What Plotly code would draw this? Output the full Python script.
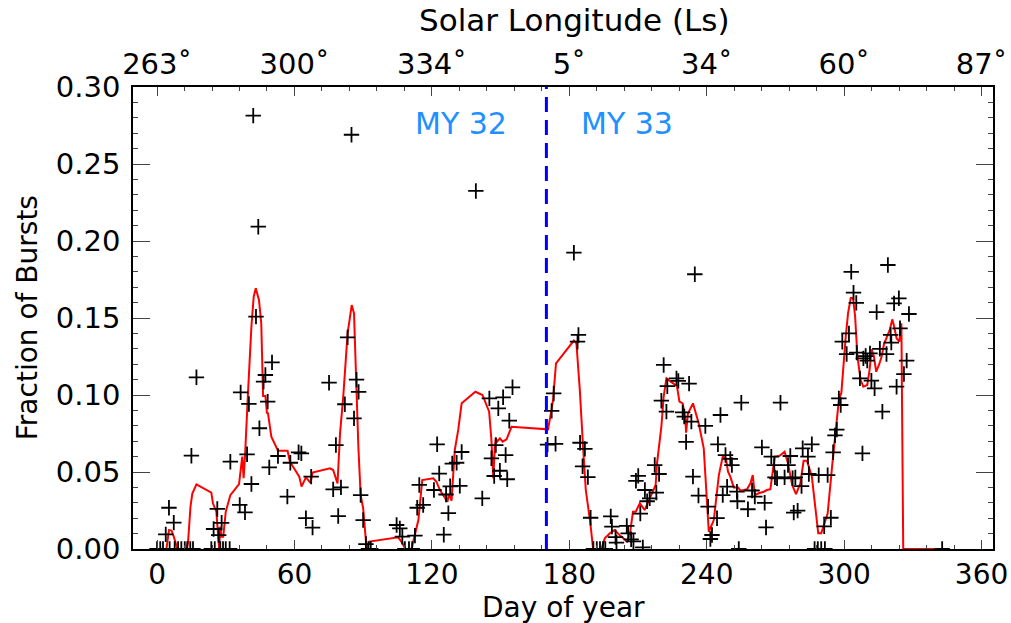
import plotly.graph_objects as go

# ---------------- data ----------------
burst_day = [0, 1.4, 2.6, 3.8, 5.2, 5.5, 7.3, 7.7, 9.2, 10.6, 12.1, 13.2, 14.5, 15.0, 15.7, 17.2,
             23.7, 24.7, 25.2, 26.3, 26.9, 27.6, 28.2, 28.8, 30.0, 31.7, 32.0, 36.1, 36.5, 38.4,
             39.3, 40.1, 41.2, 42.0, 43.2, 44.2, 44.7, 46.5, 47.3, 48.3, 49.0, 50.2, 52.8, 56.9,
             58.2, 61.8, 63.0, 65.0, 67.3, 67.9, 75.1, 76.9, 78.1, 79.1, 80.3, 82.0, 83.2, 84.9,
             86.0, 87.1, 88.0, 88.9, 90.0, 91.2, 92.3, 93.3,
             104.6, 106.0, 107.1, 108.2, 110.0, 111.4, 112.6, 113.6, 114.5, 116.2, 120.9, 122.3,
             123.2, 125.2, 126.2, 127.2, 128.0, 128.9, 130.8, 132.2, 133.0, 139.2, 142.0, 145.1,
             146.0, 147.2, 147.9, 149.0, 149.7, 151.1, 152.2, 152.9, 153.8, 155.2,
             170.5, 172.3, 173.2, 174.0, 182.0, 183.6, 184.0, 184.7, 185.8, 186.8, 188.1, 189.3,
             190.5, 192.0, 193.4, 194.7, 195.7, 198.1, 198.6, 200.2, 200.6, 205.1, 205.7, 207.0,
             208.0, 209.1, 210.1, 211.0, 212.1, 213.0, 214.0, 215.1, 217.3, 218.0, 219.2, 220.2,
             221.2, 222.4, 222.8, 226.8, 227.6, 229.5, 230.2, 231.0, 232.3, 233.3, 234.0, 234.8,
             236.4, 239.4, 240.6, 241.6, 242.3, 244.5, 244.9, 246.0, 247.0, 248.2, 248.9, 250.3,
             251.0, 253.2, 253.4, 254.0, 255.1, 258.0, 259.8, 261.0, 264.1, 265.3, 265.9, 268.2,
             269.5, 269.8, 270.7, 272.2, 274.0, 275.5, 276.5, 277.5, 278.0, 278.7, 279.7, 281.4,
             281.9, 284.2, 284.6, 285.9, 287.1, 288.5, 288.9, 290.0, 291.3, 291.6, 292.8, 294.2,
             295.2, 296.0, 296.8, 297.7, 298.5, 299.2, 301.1, 302.1, 303.1, 304.1, 305.3, 305.5,
             306.9, 308.0, 308.4, 309.4, 310.1, 311.3, 311.9, 313.3, 314.2, 315.6, 316.7, 318.5,
             319.1, 320.3, 320.6, 321.8, 322.9, 323.9, 324.4, 326.1, 327.3, 328.3, 342.8]
burst_frac = [0, 0, 0, 0.0095, 0.0268, 0, 0.0171, 0, 0, 0, 0, 0, 0, 0.0606, 0, 0.1115,
              0, 0.013, 0, 0.026, 0.009, 0, 0.017, 0, 0, 0, 0.0567, 0.0286, 0.1017, 0.0238,
              0.0615, 0.0942, 0.0422, 0.2814, 0.1509, 0.2093, 0.0784, 0.1087, 0.113, 0.0957, 0.053, 0.1212, 0.0604, 0.034,
              0.056, 0.0628, 0.0621, 0.020, 0.047, 0.0139, 0.108, 0.0387, 0.0675, 0.0214, 0.040, 0.094, 0.1374, 0.269,
              0.0848, 0.110, 0.102, 0.035, 0.0188, 0.0032, 0, 0,
              0.0156, 0.0134, 0.008, 0, 0, 0, 0.0087, 0.0268, 0.0416, 0.0286, 0.0383, 0.068,
              0.049, 0.0093, 0.0354, 0.0233, 0.0407, 0.0555, 0.056, 0.041, 0.063, 0.2325, 0.0329, 0.0978,
              0.0589, 0.0474, 0.0675, 0.0913, 0.0508, 0.0985, 0.061, 0.0453, 0.0833, 0.105,
              0.0678, 0.0897, 0.101, 0.0683, 0.1924, 0.1346, 0.139, 0.069, 0.0537, 0.065, 0.0467, 0.0203,
              0, 0, 0, 0, 0, 0.0212, 0.0145, 0.0077, 0.0042, 0.015, 0.0102, 0.0063,
              0.005, 0.0443, 0.0475, 0.023, 0.001, 0.0383, 0.031, 0.0329, 0.0545, 0.0366, 0.0487, 0.0963,
              0.1195, 0.0892, 0.1057, 0.1108, 0.1092, 0.0887, 0.086, 0.0695, 0.1074, 0.0827, 0.047, 0.1784,
              0.0347, 0.0799, 0.0275, 0.0065, 0.0091, 0.020, 0.068, 0.087, 0.035, 0.061, 0.0405, 0.0585,
              0.0545, 0.0372, 0.031, 0, 0.095, 0.0258, 0.038, 0.034, 0.066, 0.030, 0.014, 0.060,
              0.0545, 0.0465, 0.0459, 0.095, 0.0465, 0.0545, 0.0604, 0.0459, 0.0236, 0.0465, 0.0249, 0.0408,
              0.0654, 0.060, 0.0487, 0.068, 0, 0, 0.048, 0, 0.0147, 0, 0.048, 0.0203,
              0.0628, 0.0738, 0.0775, 0.0978, 0.0935, 0.1346, 0.1266, 0.140, 0.180, 0.1665, 0.1598, 0.1275,
              0.1108, 0.0621, 0.1238, 0.1253, 0.1223, 0.127, 0.1093, 0.1043, 0.1538, 0.130, 0.0892, 0.1266,
              0.1844, 0.139, 0.134, 0.1595, 0.1054, 0.1628, 0.1433, 0.1136, 0.1223, 0.1526, 0]

smooth_day = [1.9, 4.1, 5.2, 6.3, 7.3, 8.1, 8.9, 12.8, 13.5, 14.6, 15.4, 17.2, 23.7, 24.4, 25.9,
              27.1, 27.6, 28.1, 28.9, 30.0, 32.0, 35.8, 37.2, 37.8, 38.4, 39.7, 41.2, 42.2, 43.1,
              44.5, 45.5, 46.3, 47.3, 48.0, 48.4, 49.9, 52.8, 57.0, 58.0, 62.1, 63.1, 65.0, 67.0,
              67.9, 75.5, 76.9, 78.8, 79.9, 81.3, 83.2, 85.0, 86.0, 86.8, 87.9, 88.9, 90.0, 91.5,
              92.7, 105.3, 106.6, 108.5, 111.1, 114.1, 115.8, 120.6, 122.0, 123.5, 125.7, 126.8,
              127.4, 128.6, 130.0, 131.5, 133.0, 139.0, 142.1, 145.0, 146.0, 146.8, 147.5, 147.9,
              148.5, 149.7, 150.9, 152.6, 154.8, 170.7, 172.2, 172.9, 174.2, 182.0, 183.1, 184.6,
              186.0, 187.2, 189.2, 190.4, 194.0, 195.5, 197.7, 199.8, 202.0, 205.2, 206.4, 207.8,
              209.0, 210.8, 212.9, 214.8, 216.6, 217.7, 218.3, 220.2, 221.2, 222.4, 227.0, 228.1,
              229.5, 230.7, 231.0, 231.8, 234.0, 236.5, 238.7, 240.9, 243.1, 245.3, 247.0, 248.4,
              249.3, 250.3, 251.8, 253.7, 254.7, 257.6, 259.1, 260.1, 261.0, 262.7, 264.9, 266.3,
              267.8, 269.7, 271.7, 274.0, 275.5, 277.3, 279.0, 280.9, 282.3, 283.8, 285.9, 287.4,
              288.7, 290.0, 292.8, 294.8, 296.7, 297.7, 298.8, 299.9, 300.7, 301.7, 302.9, 303.9,
              304.8, 305.8, 307.2, 308.4, 310.1, 311.1, 312.0, 313.0, 314.0, 315.2, 316.4, 317.4,
              318.8, 320.0, 321.0, 321.7, 322.9, 324.1, 325.0, 325.8, 342.8]
smooth_frac = [0, 0, 0.0123, 0.012, 0.008, 0.003, 0, 0, 0.0037, 0.0275, 0.036, 0.042, 0.0366, 0.0297, 0.0242,
               0.0, 0.0145, 0.008, 0.008, 0.0242, 0.035, 0.0422, 0.060, 0.0459, 0.060, 0.101, 0.1444, 0.1638, 0.1693,
               0.1617, 0.1466, 0.0994, 0.0994, 0.088, 0.0885, 0.0729, 0.0638, 0.0638, 0.0567, 0.047, 0.0405, 0.0465, 0.043,
               0.0496, 0.0524, 0.0513, 0.0426, 0.0751, 0.0989, 0.140, 0.1584, 0.153, 0.1097, 0.0664, 0.035, 0.0264, 0.0,
               0.0048, 0.0076, 0.005, 0, 0, 0.0188, 0.0448, 0.0459, 0.0437, 0.0383, 0.0329, 0.0307,
               0.0357, 0.0314, 0.0643, 0.0773, 0.0946, 0.1021, 0.100, 0.0892, 0.0708, 0.0459, 0.0664, 0.0719,
               0.0697, 0.0719, 0.0697, 0.0712, 0.0794, 0.0777, 0.090, 0.0968, 0.1206, 0.1353, 0.1336, 0.1032,
               0.0664, 0.0383, 0.0167, 0, 0, 0.0069, 0.0102, 0.0123, 0.009, 0.0048, 0.009, 0.0242,
               0.0242, 0.0297, 0.0253, 0.0318, 0.0383, 0.0416, 0.0556, 0.0794, 0.0989, 0.1108, 0.1058, 0.0957,
               0.0946, 0.0838, 0.0755, 0.088, 0.0946, 0.0816, 0.0654, 0.0112, 0.0188, 0.048, 0.060, 0.0589,
               0.0502, 0.047, 0.040, 0.040, 0.0379, 0.0388, 0.0427, 0.048, 0.035, 0.0362, 0.0372, 0.0383,
               0.0388, 0.060, 0.0604, 0.0632, 0.0556, 0.0416, 0.0357, 0.0427, 0.0573, 0.0573, 0.047, 0.0253,
               0.0102, 0.0102, 0.023, 0.0545, 0.0816, 0.0968, 0.1015, 0.126, 0.1379, 0.153, 0.1630, 0.1630,
               0.151, 0.125, 0.1097, 0.1054, 0.1065, 0.1162, 0.1297, 0.125, 0.1151, 0.1195, 0.125, 0.1331,
               0.1379, 0.1426, 0.1491, 0.1455, 0.1368, 0.1346, 0.1466, 0, 0]

day_ticks = [0, 60, 120, 180, 240, 300, 360]
ls_labels = ["263˚", "300˚", "334˚", "5˚", "34˚", "60˚", "87˚"]
my_boundary_day = 170
my_labels = ["MY 32", "MY 33"]
x_range = [-10.5, 365]
y_range = [0, 0.30]

# ---------------- figure ----------------
FONT = "DejaVu Sans"
fig = go.Figure()

fig.add_trace(go.Scatter(
    x=smooth_day, y=smooth_frac, mode="lines",
    line=dict(color="#ff0000", width=2), showlegend=False, hoverinfo="skip"))

fig.add_trace(go.Scatter(
    x=burst_day, y=burst_frac, mode="markers",
    marker=dict(symbol="cross-thin", size=11, line=dict(color="black", width=1.8)),
    showlegend=False))

fig.add_shape(type="line", xref="x", yref="paper", x0=my_boundary_day, x1=my_boundary_day,
              y0=0, y1=1, line=dict(color="#0000ff", width=3, dash="15px,8px"))

fig.add_annotation(x=my_boundary_day, y=0.2766, xref="x", yref="y", text=my_labels[0],
                   showarrow=False, xanchor="right", xshift=-37,
                   font=dict(family=FONT, size=30, color="#1e90ff"))
fig.add_annotation(x=my_boundary_day, y=0.2766, xref="x", yref="y", text=my_labels[1],
                   showarrow=False, xanchor="left", xshift=33,
                   font=dict(family=FONT, size=30, color="#1e90ff"))

# axis titles
fig.add_annotation(x=0.5, y=-0.126, xref="paper", yref="paper", text="Day of year",
                   showarrow=False, xanchor="center", yanchor="middle",
                   font=dict(family=FONT, size=28, color="black"))
fig.add_annotation(x=0.513, y=1.145, xref="paper", yref="paper", text="Solar Longitude (Ls)",
                   showarrow=False, xanchor="center", yanchor="middle",
                   font=dict(family=FONT, size=31, color="black"))
fig.add_annotation(x=-0.123, y=0.5, xref="paper", yref="paper", text="Fraction of Bursts",
                   showarrow=False, textangle=-90, xanchor="center", yanchor="middle",
                   font=dict(family=FONT, size=28, color="black"))

axis_common = dict(showgrid=False, zeroline=False, showline=True, linecolor="black",
                   linewidth=1.5, ticks="inside", tickcolor="#444", tickwidth=1,
                   automargin=False)

fig.update_layout(
    width=1011, height=623,
    margin=dict(l=133, r=18, t=87, b=74, autoexpand=False),
    paper_bgcolor="white", plot_bgcolor="white",
    font=dict(family=FONT, size=28, color="black"),
    xaxis=dict(range=x_range, tickvals=day_ticks, ticklen=9,
               minor=dict(dtick=12, tick0=0, ticklen=4, ticks="inside", tickcolor="#444"),
               tickfont=dict(family=FONT, size=28), **axis_common),
    xaxis2=dict(range=x_range, overlaying="x", side="top", anchor="y",
                tickvals=day_ticks, ticktext=ls_labels, ticklen=9,
                minor=dict(dtick=12, tick0=0, ticklen=4, ticks="inside", tickcolor="#444"),
                tickfont=dict(family=FONT, size=29), **axis_common),
    yaxis=dict(range=y_range, dtick=0.05, tick0=0, tickformat=".2f", ticklen=17,
               mirror="ticks", ticklabelstandoff=5,
               minor=dict(dtick=0.01, tick0=0, ticklen=5, ticks="inside", tickcolor="#444"),
               tickfont=dict(family=FONT, size=29), **axis_common),
)

# keep the top axis active
fig.add_trace(go.Scatter(x=[x_range[0]], y=[None], xaxis="x2", mode="markers",
                         showlegend=False, hoverinfo="skip"))

fig.write_html("out.html")
